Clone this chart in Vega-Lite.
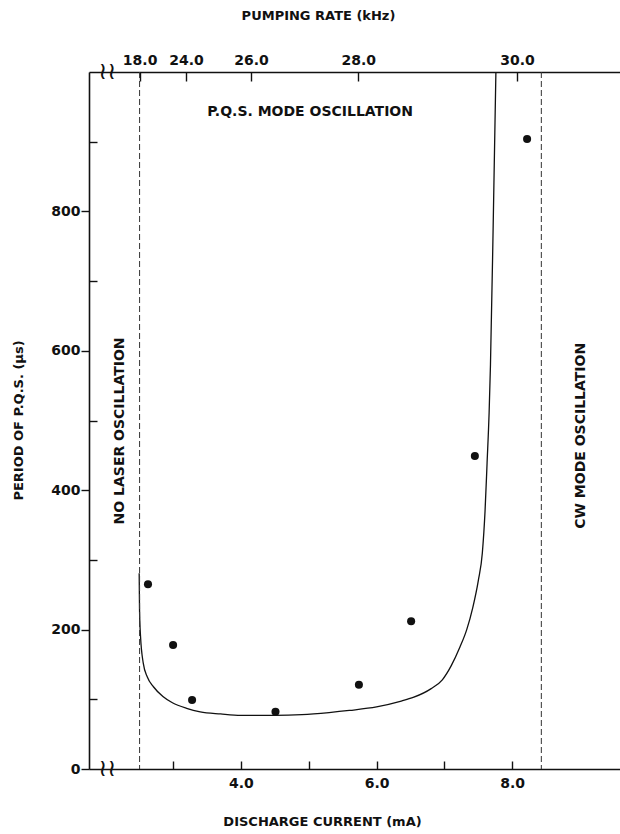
{
  "$schema": "https://vega.github.io/schema/vega-lite/v6.json",
  "autosize": {"type": "none"},
  "padding": {"left": 89, "top": 72, "right": 0, "bottom": 65},
  "width": 531,
  "height": 697,
  "background": "white",
  "config": {
    "view": {"stroke": null},
    "font": "DejaVu Sans",
    "axis": {
      "domainColor": "#111",
      "domainWidth": 1.6,
      "tickColor": "#111",
      "tickWidth": 1.4,
      "labelColor": "#111",
      "titleColor": "#111",
      "labelFont": "DejaVu Sans",
      "titleFont": "DejaVu Sans",
      "labelFontSize": 14,
      "labelFontWeight": "bold",
      "titleFontSize": 13,
      "titleFontWeight": "bold",
      "grid": false
    }
  },
  "datasets": {
    "points": [
      {"current": 2.63, "period": 265},
      {"current": 3.0, "period": 178},
      {"current": 3.28, "period": 99},
      {"current": 4.51, "period": 82},
      {"current": 5.74, "period": 121},
      {"current": 6.51, "period": 212},
      {"current": 7.45, "period": 449},
      {"current": 8.22, "period": 904}
    ],
    "curve": [
      {"current": 2.5, "period": 281},
      {"current": 2.505, "period": 230},
      {"current": 2.52, "period": 190},
      {"current": 2.56, "period": 152},
      {"current": 2.62, "period": 132},
      {"current": 2.71, "period": 118},
      {"current": 2.85, "period": 104},
      {"current": 2.99, "period": 95},
      {"current": 3.2, "period": 87},
      {"current": 3.4, "period": 82},
      {"current": 3.7, "period": 79},
      {"current": 4.0, "period": 77},
      {"current": 4.5, "period": 77},
      {"current": 4.9, "period": 78},
      {"current": 5.3, "period": 81},
      {"current": 5.6, "period": 84},
      {"current": 6.0, "period": 89},
      {"current": 6.35, "period": 97},
      {"current": 6.55, "period": 103},
      {"current": 6.8, "period": 115},
      {"current": 6.97, "period": 128},
      {"current": 7.1, "period": 148},
      {"current": 7.23, "period": 175},
      {"current": 7.33, "period": 200},
      {"current": 7.42, "period": 232},
      {"current": 7.5, "period": 270},
      {"current": 7.56, "period": 310},
      {"current": 7.6, "period": 370},
      {"current": 7.63, "period": 439},
      {"current": 7.66, "period": 511},
      {"current": 7.68, "period": 580},
      {"current": 7.72, "period": 780},
      {"current": 7.76, "period": 1000}
    ],
    "limits": [
      {"current": 2.506},
      {"current": 8.43}
    ],
    "hlabels": [
      {"current": 5.02, "period": 943, "label": "P.Q.S. MODE OSCILLATION"}
    ],
    "vlabels": [
      {"current": 2.22, "period": 485, "label": "NO LASER OSCILLATION"},
      {"current": 9.02, "period": 478, "label": "CW MODE OSCILLATION"}
    ],
    "breaks": [
      {"current": 2.03, "period": 0, "label": "≀≀"},
      {"current": 2.03, "period": 1000, "label": "≀≀"}
    ]
  },
  "resolve": {"axis": {"x": "independent", "y": "independent"}},
  "layer": [
    {
      "data": {"name": "points"},
      "mark": {"type": "circle", "size": 65, "opacity": 1, "color": "#111"},
      "encoding": {
        "x": {
          "field": "current", "type": "quantitative",
          "scale": {"domain": [1.76, 9.59], "nice": false, "zero": false},
          "axis": {
            "orient": "bottom",
            "values": [3, 4, 5, 6, 7, 8],
            "tickSize": -8,
            "labelPadding": 15,
            "labelExpr": "datum.value % 2 == 0 ? format(datum.value, '.1f') : ''",
            "title": "DISCHARGE CURRENT (mA)",
            "titleX": 233,
            "titleY": 46,
            "titleAnchor": null,
            "titleAlign": "center",
            "titleBaseline": "top"
          }
        },
        "y": {
          "field": "period", "type": "quantitative",
          "scale": {"domain": [0, 1000], "nice": false, "zero": true},
          "axis": {
            "orient": "left",
            "values": [0, 200, 400, 600, 800],
            "tickSize": 8,
            "labelPadding": 1,
            "title": "PERIOD OF P.Q.S. (μs)",
            "titleX": -71,
            "titleY": 348,
            "titleAnchor": null,
            "titleAngle": -90,
            "titleAlign": "center",
            "titleBaseline": "middle"
          }
        }
      }
    },
    {
      "data": {"name": "curve"},
      "mark": {"type": "line", "color": "#111", "strokeWidth": 1.3, "interpolate": "monotone"},
      "encoding": {
        "x": {
          "field": "current", "type": "quantitative",
          "axis": {
            "orient": "top",
            "values": [2.506, 3.19, 4.15, 5.73, 8.07],
            "tickSize": -9,
            "labelPadding": 14,
            "labelExpr": "datum.value < 2.6 ? '18.0' : datum.value < 3.5 ? '24.0' : datum.value < 5 ? '26.0' : datum.value < 7 ? '28.0' : '30.0'",
            "title": "PUMPING RATE (kHz)",
            "titleX": 229,
            "titleY": -57,
            "titleAnchor": null,
            "titleAlign": "center",
            "titleBaseline": "middle"
          }
        },
        "y": {
          "field": "period", "type": "quantitative",
          "axis": {
            "orient": "left",
            "values": [100, 300, 500, 700, 900],
            "tickSize": -8,
            "labels": false,
            "domain": false,
            "title": null
          }
        }
      }
    },
    {
      "data": {"name": "limits"},
      "mark": {"type": "rule", "color": "#333", "strokeWidth": 1, "strokeDash": [6, 3]},
      "encoding": {
        "x": {"field": "current", "type": "quantitative", "axis": null}
      }
    },
    {
      "data": {"name": "hlabels"},
      "mark": {"type": "text", "font": "DejaVu Sans", "fontSize": 14, "fontWeight": "bold", "color": "#111", "align": "center", "baseline": "middle"},
      "encoding": {
        "x": {"field": "current", "type": "quantitative", "axis": null},
        "y": {"field": "period", "type": "quantitative", "axis": null},
        "text": {"field": "label"}
      }
    },
    {
      "data": {"name": "vlabels"},
      "mark": {"type": "text", "font": "DejaVu Sans", "fontSize": 14, "fontWeight": "bold", "color": "#111", "align": "center", "baseline": "middle", "angle": 270},
      "encoding": {
        "x": {"field": "current", "type": "quantitative", "axis": null},
        "y": {"field": "period", "type": "quantitative", "axis": null},
        "text": {"field": "label"}
      }
    },
    {
      "data": {"name": "breaks"},
      "mark": {"type": "text", "font": "DejaVu Sans", "fontSize": 24, "color": "#111", "align": "center", "baseline": "middle"},
      "encoding": {
        "x": {"field": "current", "type": "quantitative", "axis": null},
        "y": {"field": "period", "type": "quantitative", "axis": null},
        "text": {"field": "label"}
      }
    }
  ]
}
